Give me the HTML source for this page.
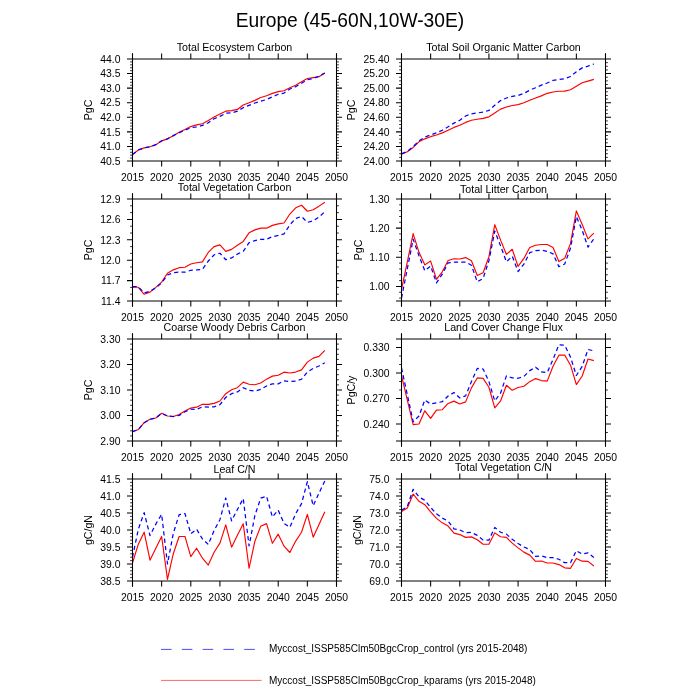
<!DOCTYPE html><html><head><meta charset="utf-8"><style>html,body{margin:0;padding:0;background:#fff;width:700px;height:700px;overflow:hidden}svg{display:block;will-change:transform}</style></head><body>
<svg width="700" height="700" viewBox="0 0 700 700" font-family='"Liberation Sans", sans-serif'>
<rect width="700" height="700" fill="#fff"/>
<text transform="translate(350 26.9) scale(1 1.065)" x="0" y="0" font-size="19.26" text-anchor="middle" fill="#000">Europe (45-60N,10W-30E)</text>
<g><polyline points="132.50,154.59 138.33,149.93 144.16,147.89 149.99,146.72 155.81,144.68 161.64,140.89 167.47,138.85 173.30,135.65 179.13,132.15 184.96,129.53 190.79,126.61 196.61,124.86 202.44,123.70 208.27,120.49 214.10,116.99 219.93,114.08 225.76,111.17 231.59,110.58 237.41,109.42 243.24,105.05 249.07,102.71 254.90,100.38 260.73,97.47 266.56,95.72 272.39,93.39 278.21,91.64 284.04,90.77 289.87,87.85 295.70,85.23 301.53,81.73 307.36,78.53 313.19,77.65 319.01,76.78 324.84,72.99" fill="none" stroke="#ff0000" stroke-width="1.15" stroke-linejoin="round"/><polyline points="132.50,154.59 138.33,149.93 144.16,147.89 149.99,146.72 155.81,144.68 161.64,140.89 167.47,138.85 173.30,135.65 179.13,132.73 184.96,130.11 190.79,127.78 196.61,126.90 202.44,125.45 208.27,122.82 214.10,118.74 219.93,116.41 225.76,113.21 231.59,112.91 237.41,111.17 243.24,107.67 249.07,105.34 254.90,103.01 260.73,101.26 266.56,99.51 272.39,96.89 278.21,94.26 284.04,93.10 289.87,89.02 295.70,86.69 301.53,83.19 307.36,79.69 313.19,78.53 319.01,76.19 324.84,72.99" fill="none" stroke="#0000ff" stroke-width="1.25" stroke-linejoin="round" stroke-dasharray="4.2 3.2"/><path d="M127.0,59H342.0M127.0,161H342.0" stroke="#000" stroke-width="1.0" fill="none"/><path d="M132.5,53.2V166.8M336.5,53.2V166.8" stroke="#000" stroke-width="1.05" fill="none"/><path d="M132.50,53.5V59M132.50,161V166.5M161.64,53.5V59M161.64,161V166.5M190.79,53.5V59M190.79,161V166.5M219.93,53.5V59M219.93,161V166.5M249.07,53.5V59M249.07,161V166.5M278.21,53.5V59M278.21,161V166.5M307.36,53.5V59M307.36,161V166.5M336.50,53.5V59M336.50,161V166.5" stroke="#000" stroke-width="1.05" fill="none"/><text x="132.50" y="180.5" font-size="10.4" text-anchor="middle">2015</text><text x="161.64" y="180.5" font-size="10.4" text-anchor="middle">2020</text><text x="190.79" y="180.5" font-size="10.4" text-anchor="middle">2025</text><text x="219.93" y="180.5" font-size="10.4" text-anchor="middle">2030</text><text x="249.07" y="180.5" font-size="10.4" text-anchor="middle">2035</text><text x="278.21" y="180.5" font-size="10.4" text-anchor="middle">2040</text><text x="307.36" y="180.5" font-size="10.4" text-anchor="middle">2045</text><text x="336.50" y="180.5" font-size="10.4" text-anchor="middle">2050</text><text x="120.5" y="164.70" font-size="10.4" text-anchor="end">40.5</text><text x="120.5" y="150.13" font-size="10.4" text-anchor="end">41.0</text><text x="120.5" y="135.56" font-size="10.4" text-anchor="end">41.5</text><text x="120.5" y="120.99" font-size="10.4" text-anchor="end">42.0</text><text x="120.5" y="106.41" font-size="10.4" text-anchor="end">42.5</text><text x="120.5" y="91.84" font-size="10.4" text-anchor="end">43.0</text><text x="120.5" y="77.27" font-size="10.4" text-anchor="end">43.5</text><text x="120.5" y="62.70" font-size="10.4" text-anchor="end">44.0</text><path d="M127.0,146.43H132.5M336.5,146.43H342.0M127.0,131.86H132.5M336.5,131.86H342.0M127.0,117.29H132.5M336.5,117.29H342.0M127.0,102.71H132.5M336.5,102.71H342.0M127.0,88.14H132.5M336.5,88.14H342.0M127.0,73.57H132.5M336.5,73.57H342.0" stroke="#000" stroke-width="1.05" fill="none"/><path d="M130.1,158.09H132.5M336.5,158.09H338.9M130.1,155.17H132.5M336.5,155.17H338.9M130.1,152.26H132.5M336.5,152.26H338.9M130.1,149.34H132.5M336.5,149.34H338.9M130.1,143.51H132.5M336.5,143.51H338.9M130.1,140.60H132.5M336.5,140.60H338.9M130.1,137.69H132.5M336.5,137.69H338.9M130.1,134.77H132.5M336.5,134.77H338.9M130.1,128.94H132.5M336.5,128.94H338.9M130.1,126.03H132.5M336.5,126.03H338.9M130.1,123.11H132.5M336.5,123.11H338.9M130.1,120.20H132.5M336.5,120.20H338.9M130.1,114.37H132.5M336.5,114.37H338.9M130.1,111.46H132.5M336.5,111.46H338.9M130.1,108.54H132.5M336.5,108.54H338.9M130.1,105.63H132.5M336.5,105.63H338.9M130.1,99.80H132.5M336.5,99.80H338.9M130.1,96.89H132.5M336.5,96.89H338.9M130.1,93.97H132.5M336.5,93.97H338.9M130.1,91.06H132.5M336.5,91.06H338.9M130.1,85.23H132.5M336.5,85.23H338.9M130.1,82.31H132.5M336.5,82.31H338.9M130.1,79.40H132.5M336.5,79.40H338.9M130.1,76.49H132.5M336.5,76.49H338.9M130.1,70.66H132.5M336.5,70.66H338.9M130.1,67.74H132.5M336.5,67.74H338.9M130.1,64.83H132.5M336.5,64.83H338.9M130.1,61.91H132.5M336.5,61.91H338.9" stroke="#000" stroke-width="0.8" fill="none"/><text x="234.50" y="51" font-size="10.67" text-anchor="middle">Total Ecosystem Carbon</text><text x="91.70" y="110.00" font-size="10.6" text-anchor="middle" transform="rotate(-90 91.70 110.00)">PgC</text></g>
<g><polyline points="401.50,154.30 407.33,151.67 413.16,147.45 418.99,141.84 424.81,138.85 430.64,136.67 436.47,134.99 442.30,132.88 448.13,130.25 453.96,127.41 459.79,125.30 465.61,122.39 471.44,120.27 477.27,119.25 483.10,118.38 488.93,116.85 494.76,112.99 500.59,109.13 506.41,107.01 512.24,105.48 518.07,104.61 523.90,102.71 529.73,100.31 535.56,97.98 541.39,95.87 547.21,93.32 553.04,92.00 558.87,91.28 564.70,91.13 570.53,89.75 576.36,86.25 582.19,82.82 588.01,81.15 593.84,79.40" fill="none" stroke="#ff0000" stroke-width="1.15" stroke-linejoin="round"/><polyline points="401.50,153.86 407.33,151.31 413.16,146.57 418.99,140.96 424.81,137.10 430.64,134.99 436.47,132.88 442.30,130.25 448.13,126.83 453.96,123.11 459.79,120.27 465.61,115.97 471.44,113.86 477.27,112.99 483.10,112.11 488.93,110.44 494.76,105.26 500.59,100.60 506.41,97.98 512.24,96.30 518.07,95.43 523.90,93.32 529.73,90.26 535.56,87.71 541.39,85.16 547.21,82.97 553.04,80.42 558.87,79.47 564.70,78.67 570.53,76.49 576.36,71.75 582.19,67.89 588.01,66.14 593.84,64.03" fill="none" stroke="#0000ff" stroke-width="1.25" stroke-linejoin="round" stroke-dasharray="4.2 3.2"/><path d="M396.0,59H611.0M396.0,161H611.0" stroke="#000" stroke-width="1.0" fill="none"/><path d="M401.5,53.2V166.8M605.5,53.2V166.8" stroke="#000" stroke-width="1.05" fill="none"/><path d="M401.50,53.5V59M401.50,161V166.5M430.64,53.5V59M430.64,161V166.5M459.79,53.5V59M459.79,161V166.5M488.93,53.5V59M488.93,161V166.5M518.07,53.5V59M518.07,161V166.5M547.21,53.5V59M547.21,161V166.5M576.36,53.5V59M576.36,161V166.5M605.50,53.5V59M605.50,161V166.5" stroke="#000" stroke-width="1.05" fill="none"/><text x="401.50" y="180.5" font-size="10.4" text-anchor="middle">2015</text><text x="430.64" y="180.5" font-size="10.4" text-anchor="middle">2020</text><text x="459.79" y="180.5" font-size="10.4" text-anchor="middle">2025</text><text x="488.93" y="180.5" font-size="10.4" text-anchor="middle">2030</text><text x="518.07" y="180.5" font-size="10.4" text-anchor="middle">2035</text><text x="547.21" y="180.5" font-size="10.4" text-anchor="middle">2040</text><text x="576.36" y="180.5" font-size="10.4" text-anchor="middle">2045</text><text x="605.50" y="180.5" font-size="10.4" text-anchor="middle">2050</text><text x="389.5" y="164.70" font-size="10.4" text-anchor="end">24.00</text><text x="389.5" y="150.13" font-size="10.4" text-anchor="end">24.20</text><text x="389.5" y="135.56" font-size="10.4" text-anchor="end">24.40</text><text x="389.5" y="120.99" font-size="10.4" text-anchor="end">24.60</text><text x="389.5" y="106.41" font-size="10.4" text-anchor="end">24.80</text><text x="389.5" y="91.84" font-size="10.4" text-anchor="end">25.00</text><text x="389.5" y="77.27" font-size="10.4" text-anchor="end">25.20</text><text x="389.5" y="62.70" font-size="10.4" text-anchor="end">25.40</text><path d="M396.0,146.43H401.5M605.5,146.43H611.0M396.0,131.86H401.5M605.5,131.86H611.0M396.0,117.29H401.5M605.5,117.29H611.0M396.0,102.71H401.5M605.5,102.71H611.0M396.0,88.14H401.5M605.5,88.14H611.0M396.0,73.57H401.5M605.5,73.57H611.0" stroke="#000" stroke-width="1.05" fill="none"/><path d="M399.1,157.36H401.5M605.5,157.36H607.9M399.1,153.71H401.5M605.5,153.71H607.9M399.1,150.07H401.5M605.5,150.07H607.9M399.1,142.79H401.5M605.5,142.79H607.9M399.1,139.14H401.5M605.5,139.14H607.9M399.1,135.50H401.5M605.5,135.50H607.9M399.1,128.21H401.5M605.5,128.21H607.9M399.1,124.57H401.5M605.5,124.57H607.9M399.1,120.93H401.5M605.5,120.93H607.9M399.1,113.64H401.5M605.5,113.64H607.9M399.1,110.00H401.5M605.5,110.00H607.9M399.1,106.36H401.5M605.5,106.36H607.9M399.1,99.07H401.5M605.5,99.07H607.9M399.1,95.43H401.5M605.5,95.43H607.9M399.1,91.79H401.5M605.5,91.79H607.9M399.1,84.50H401.5M605.5,84.50H607.9M399.1,80.86H401.5M605.5,80.86H607.9M399.1,77.21H401.5M605.5,77.21H607.9M399.1,69.93H401.5M605.5,69.93H607.9M399.1,66.29H401.5M605.5,66.29H607.9M399.1,62.64H401.5M605.5,62.64H607.9" stroke="#000" stroke-width="0.8" fill="none"/><text x="503.50" y="51" font-size="10.67" text-anchor="middle">Total Soil Organic Matter Carbon</text><text x="354.50" y="110.00" font-size="10.6" text-anchor="middle" transform="rotate(-90 354.50 110.00)">PgC</text></g>
<g><polyline points="132.50,287.26 138.33,287.26 144.16,294.27 149.99,292.16 155.81,287.40 161.64,282.10 167.47,273.26 173.30,269.86 179.13,267.68 184.96,267.27 190.79,264.01 196.61,262.72 202.44,261.83 208.27,252.45 214.10,246.60 219.93,244.90 225.76,251.36 231.59,249.39 237.41,245.24 243.24,241.43 249.07,232.86 254.90,229.87 260.73,228.17 266.56,228.17 272.39,225.38 278.21,223.82 284.04,223.00 289.87,214.03 295.70,207.84 301.53,205.26 307.36,211.24 313.19,209.74 319.01,206.14 324.84,202.20" fill="none" stroke="#ff0000" stroke-width="1.15" stroke-linejoin="round"/><polyline points="132.50,286.58 138.33,286.72 144.16,292.98 149.99,291.28 155.81,287.81 161.64,282.98 167.47,274.96 173.30,272.71 179.13,272.17 184.96,272.24 190.79,270.26 196.61,269.99 202.44,269.38 208.27,261.02 214.10,254.83 219.93,253.26 225.76,259.72 231.59,257.96 237.41,254.08 243.24,251.29 249.07,242.72 254.90,240.55 260.73,239.26 266.56,239.26 272.39,236.67 278.21,235.45 284.04,233.82 289.87,224.84 295.70,218.52 301.53,216.41 307.36,222.39 313.19,220.83 319.01,217.02 324.84,211.58" fill="none" stroke="#0000ff" stroke-width="1.25" stroke-linejoin="round" stroke-dasharray="4.2 3.2"/><path d="M127.0,199H342.0M127.0,301H342.0" stroke="#000" stroke-width="1.0" fill="none"/><path d="M132.5,193.2V306.8M336.5,193.2V306.8" stroke="#000" stroke-width="1.05" fill="none"/><path d="M132.50,193.5V199M132.50,301V306.5M161.64,193.5V199M161.64,301V306.5M190.79,193.5V199M190.79,301V306.5M219.93,193.5V199M219.93,301V306.5M249.07,193.5V199M249.07,301V306.5M278.21,193.5V199M278.21,301V306.5M307.36,193.5V199M307.36,301V306.5M336.50,193.5V199M336.50,301V306.5" stroke="#000" stroke-width="1.05" fill="none"/><text x="132.50" y="320.5" font-size="10.4" text-anchor="middle">2015</text><text x="161.64" y="320.5" font-size="10.4" text-anchor="middle">2020</text><text x="190.79" y="320.5" font-size="10.4" text-anchor="middle">2025</text><text x="219.93" y="320.5" font-size="10.4" text-anchor="middle">2030</text><text x="249.07" y="320.5" font-size="10.4" text-anchor="middle">2035</text><text x="278.21" y="320.5" font-size="10.4" text-anchor="middle">2040</text><text x="307.36" y="320.5" font-size="10.4" text-anchor="middle">2045</text><text x="336.50" y="320.5" font-size="10.4" text-anchor="middle">2050</text><text x="120.5" y="304.70" font-size="10.4" text-anchor="end">11.4</text><text x="120.5" y="284.30" font-size="10.4" text-anchor="end">11.7</text><text x="120.5" y="263.90" font-size="10.4" text-anchor="end">12.0</text><text x="120.5" y="243.50" font-size="10.4" text-anchor="end">12.3</text><text x="120.5" y="223.10" font-size="10.4" text-anchor="end">12.6</text><text x="120.5" y="202.70" font-size="10.4" text-anchor="end">12.9</text><path d="M127.0,280.60H132.5M336.5,280.60H342.0M127.0,260.20H132.5M336.5,260.20H342.0M127.0,239.80H132.5M336.5,239.80H342.0M127.0,219.40H132.5M336.5,219.40H342.0" stroke="#000" stroke-width="1.05" fill="none"/><path d="M130.1,294.20H132.5M336.5,294.20H338.9M130.1,287.40H132.5M336.5,287.40H338.9M130.1,273.80H132.5M336.5,273.80H338.9M130.1,267.00H132.5M336.5,267.00H338.9M130.1,253.40H132.5M336.5,253.40H338.9M130.1,246.60H132.5M336.5,246.60H338.9M130.1,233.00H132.5M336.5,233.00H338.9M130.1,226.20H132.5M336.5,226.20H338.9M130.1,212.60H132.5M336.5,212.60H338.9M130.1,205.80H132.5M336.5,205.80H338.9" stroke="#000" stroke-width="0.8" fill="none"/><text x="234.50" y="191" font-size="10.67" text-anchor="middle">Total Vegetation Carbon</text><text x="92.20" y="250.00" font-size="10.6" text-anchor="middle" transform="rotate(-90 92.20 250.00)">PgC</text></g>
<g><polyline points="401.50,289.34 407.33,261.80 413.16,233.68 418.99,252.33 424.81,264.86 430.64,261.07 436.47,279.29 442.30,271.86 448.13,260.49 453.96,258.74 459.79,258.98 465.61,257.61 471.44,260.70 477.27,275.56 483.10,272.70 488.93,256.70 494.76,224.70 500.59,240.15 506.41,254.43 512.24,249.30 518.07,266.41 523.90,258.42 529.73,247.58 535.56,245.28 541.39,244.49 547.21,244.49 553.04,247.58 558.87,261.51 564.70,258.36 570.53,243.41 576.36,210.86 582.19,224.56 588.01,238.87 593.84,233.13" fill="none" stroke="#ff0000" stroke-width="1.15" stroke-linejoin="round"/><polyline points="401.50,298.09 407.33,268.65 413.16,239.22 418.99,255.83 424.81,270.69 430.64,266.03 436.47,282.93 442.30,274.19 448.13,262.82 453.96,262.24 459.79,262.09 465.61,262.09 471.44,265.27 477.27,281.85 483.10,278.41 488.93,260.70 494.76,231.00 500.59,245.86 506.41,261.86 512.24,256.15 518.07,271.57 523.90,264.13 529.73,252.71 535.56,250.67 541.39,250.20 547.21,251.34 553.04,253.85 558.87,266.64 564.70,264.05 570.53,247.99 576.36,216.57 582.19,230.30 588.01,247.09 593.84,238.87" fill="none" stroke="#0000ff" stroke-width="1.25" stroke-linejoin="round" stroke-dasharray="4.2 3.2"/><path d="M396.0,199H611.0M396.0,301H611.0" stroke="#000" stroke-width="1.0" fill="none"/><path d="M401.5,193.2V306.8M605.5,193.2V306.8" stroke="#000" stroke-width="1.05" fill="none"/><path d="M401.50,193.5V199M401.50,301V306.5M430.64,193.5V199M430.64,301V306.5M459.79,193.5V199M459.79,301V306.5M488.93,193.5V199M488.93,301V306.5M518.07,193.5V199M518.07,301V306.5M547.21,193.5V199M547.21,301V306.5M576.36,193.5V199M576.36,301V306.5M605.50,193.5V199M605.50,301V306.5" stroke="#000" stroke-width="1.05" fill="none"/><text x="401.50" y="320.5" font-size="10.4" text-anchor="middle">2015</text><text x="430.64" y="320.5" font-size="10.4" text-anchor="middle">2020</text><text x="459.79" y="320.5" font-size="10.4" text-anchor="middle">2025</text><text x="488.93" y="320.5" font-size="10.4" text-anchor="middle">2030</text><text x="518.07" y="320.5" font-size="10.4" text-anchor="middle">2035</text><text x="547.21" y="320.5" font-size="10.4" text-anchor="middle">2040</text><text x="576.36" y="320.5" font-size="10.4" text-anchor="middle">2045</text><text x="605.50" y="320.5" font-size="10.4" text-anchor="middle">2050</text><text x="389.5" y="290.13" font-size="10.4" text-anchor="end">1.00</text><text x="389.5" y="260.99" font-size="10.4" text-anchor="end">1.10</text><text x="389.5" y="231.84" font-size="10.4" text-anchor="end">1.20</text><text x="389.5" y="202.70" font-size="10.4" text-anchor="end">1.30</text><path d="M396.0,286.43H401.5M605.5,286.43H611.0M396.0,257.29H401.5M605.5,257.29H611.0M396.0,228.14H401.5M605.5,228.14H611.0" stroke="#000" stroke-width="1.05" fill="none"/><path d="M399.1,298.09H401.5M605.5,298.09H607.9M399.1,292.26H401.5M605.5,292.26H607.9M399.1,280.60H401.5M605.5,280.60H607.9M399.1,274.77H401.5M605.5,274.77H607.9M399.1,268.94H401.5M605.5,268.94H607.9M399.1,263.11H401.5M605.5,263.11H607.9M399.1,251.46H401.5M605.5,251.46H607.9M399.1,245.63H401.5M605.5,245.63H607.9M399.1,239.80H401.5M605.5,239.80H607.9M399.1,233.97H401.5M605.5,233.97H607.9M399.1,222.31H401.5M605.5,222.31H607.9M399.1,216.49H401.5M605.5,216.49H607.9M399.1,210.66H401.5M605.5,210.66H607.9M399.1,204.83H401.5M605.5,204.83H607.9" stroke="#000" stroke-width="0.8" fill="none"/><text x="503.50" y="192.8" font-size="10.67" text-anchor="middle">Total Litter Carbon</text><text x="361.50" y="250.00" font-size="10.6" text-anchor="middle" transform="rotate(-90 361.50 250.00)">PgC</text></g>
<g><polyline points="132.50,431.69 138.33,429.55 144.16,422.69 149.99,419.27 155.81,418.00 161.64,413.28 167.47,416.01 173.30,416.52 179.13,414.56 184.96,410.99 190.79,408.03 196.61,407.16 202.44,404.25 208.27,404.43 214.10,403.39 219.93,400.99 225.76,393.72 231.59,389.69 237.41,387.70 243.24,382.12 249.07,384.29 254.90,384.70 260.73,382.99 266.56,379.14 272.39,376.13 278.21,375.29 284.04,372.15 289.87,372.99 295.70,372.07 301.53,369.86 307.36,362.13 313.19,358.10 319.01,356.39 324.84,350.40" fill="none" stroke="#ff0000" stroke-width="1.15" stroke-linejoin="round"/><polyline points="132.50,431.69 138.33,429.55 144.16,422.69 149.99,419.27 155.81,418.00 161.64,413.28 167.47,416.01 173.30,416.52 179.13,415.40 184.96,411.75 190.79,409.12 196.61,409.38 202.44,406.83 208.27,407.16 214.10,406.83 219.93,404.59 225.76,397.39 231.59,393.72 237.41,391.91 243.24,387.70 249.07,390.28 254.90,391.12 260.73,389.41 266.56,386.00 272.39,383.85 278.21,383.85 284.04,380.77 289.87,381.48 295.70,381.13 301.53,379.26 307.36,372.00 313.19,368.40 319.01,366.00 324.84,362.74" fill="none" stroke="#0000ff" stroke-width="1.25" stroke-linejoin="round" stroke-dasharray="4.2 3.2"/><path d="M127.0,339H342.0M127.0,441H342.0" stroke="#000" stroke-width="1.0" fill="none"/><path d="M132.5,333.2V446.8M336.5,333.2V446.8" stroke="#000" stroke-width="1.05" fill="none"/><path d="M132.50,333.5V339M132.50,441V446.5M161.64,333.5V339M161.64,441V446.5M190.79,333.5V339M190.79,441V446.5M219.93,333.5V339M219.93,441V446.5M249.07,333.5V339M249.07,441V446.5M278.21,333.5V339M278.21,441V446.5M307.36,333.5V339M307.36,441V446.5M336.50,333.5V339M336.50,441V446.5" stroke="#000" stroke-width="1.05" fill="none"/><text x="132.50" y="460.5" font-size="10.4" text-anchor="middle">2015</text><text x="161.64" y="460.5" font-size="10.4" text-anchor="middle">2020</text><text x="190.79" y="460.5" font-size="10.4" text-anchor="middle">2025</text><text x="219.93" y="460.5" font-size="10.4" text-anchor="middle">2030</text><text x="249.07" y="460.5" font-size="10.4" text-anchor="middle">2035</text><text x="278.21" y="460.5" font-size="10.4" text-anchor="middle">2040</text><text x="307.36" y="460.5" font-size="10.4" text-anchor="middle">2045</text><text x="336.50" y="460.5" font-size="10.4" text-anchor="middle">2050</text><text x="120.5" y="444.70" font-size="10.4" text-anchor="end">2.90</text><text x="120.5" y="419.20" font-size="10.4" text-anchor="end">3.00</text><text x="120.5" y="393.70" font-size="10.4" text-anchor="end">3.10</text><text x="120.5" y="368.20" font-size="10.4" text-anchor="end">3.20</text><text x="120.5" y="342.70" font-size="10.4" text-anchor="end">3.30</text><path d="M127.0,415.50H132.5M336.5,415.50H342.0M127.0,390.00H132.5M336.5,390.00H342.0M127.0,364.50H132.5M336.5,364.50H342.0" stroke="#000" stroke-width="1.05" fill="none"/><path d="M130.1,435.90H132.5M336.5,435.90H338.9M130.1,430.80H132.5M336.5,430.80H338.9M130.1,425.70H132.5M336.5,425.70H338.9M130.1,420.60H132.5M336.5,420.60H338.9M130.1,410.40H132.5M336.5,410.40H338.9M130.1,405.30H132.5M336.5,405.30H338.9M130.1,400.20H132.5M336.5,400.20H338.9M130.1,395.10H132.5M336.5,395.10H338.9M130.1,384.90H132.5M336.5,384.90H338.9M130.1,379.80H132.5M336.5,379.80H338.9M130.1,374.70H132.5M336.5,374.70H338.9M130.1,369.60H132.5M336.5,369.60H338.9M130.1,359.40H132.5M336.5,359.40H338.9M130.1,354.30H132.5M336.5,354.30H338.9M130.1,349.20H132.5M336.5,349.20H338.9M130.1,344.10H132.5M336.5,344.10H338.9" stroke="#000" stroke-width="0.8" fill="none"/><text x="234.50" y="331" font-size="10.67" text-anchor="middle">Coarse Woody Debris Carbon</text><text x="92.00" y="390.00" font-size="10.6" text-anchor="middle" transform="rotate(-90 92.00 390.00)">PgC</text></g>
<g><polyline points="401.50,375.47 407.33,400.03 413.16,424.59 418.99,424.00 424.81,410.82 430.64,418.31 436.47,410.06 442.30,409.72 448.13,403.43 453.96,401.13 459.79,403.94 465.61,401.90 471.44,387.88 477.27,377.93 483.10,378.36 488.93,387.28 494.76,407.85 500.59,400.97 506.41,385.24 512.24,390.34 518.07,387.45 523.90,386.26 529.73,381.67 535.56,378.61 541.39,380.56 547.21,381.16 553.04,366.29 558.87,355.15 564.70,355.07 570.53,365.18 576.36,384.56 582.19,375.98 588.01,359.06 593.84,360.59" fill="none" stroke="#ff0000" stroke-width="1.15" stroke-linejoin="round"/><polyline points="401.50,367.99 407.33,394.85 413.16,421.70 418.99,416.01 424.81,400.03 430.64,404.02 436.47,402.83 442.30,401.73 448.13,396.04 453.96,392.55 459.79,397.99 465.61,395.87 471.44,381.59 477.27,368.41 483.10,369.00 488.93,381.59 494.76,400.97 500.59,392.97 506.41,375.89 512.24,377.85 518.07,378.27 523.90,376.57 529.73,370.62 535.56,367.22 541.39,371.98 547.21,372.58 553.04,359.40 558.87,344.70 564.70,345.12 570.53,357.11 576.36,375.47 582.19,366.29 588.01,349.46 593.84,350.90" fill="none" stroke="#0000ff" stroke-width="1.25" stroke-linejoin="round" stroke-dasharray="4.2 3.2"/><path d="M396.0,339H611.0M396.0,441H611.0" stroke="#000" stroke-width="1.0" fill="none"/><path d="M401.5,333.2V446.8M605.5,333.2V446.8" stroke="#000" stroke-width="1.05" fill="none"/><path d="M401.50,333.5V339M401.50,441V446.5M430.64,333.5V339M430.64,441V446.5M459.79,333.5V339M459.79,441V446.5M488.93,333.5V339M488.93,441V446.5M518.07,333.5V339M518.07,441V446.5M547.21,333.5V339M547.21,441V446.5M576.36,333.5V339M576.36,441V446.5M605.50,333.5V339M605.50,441V446.5" stroke="#000" stroke-width="1.05" fill="none"/><text x="401.50" y="460.5" font-size="10.4" text-anchor="middle">2015</text><text x="430.64" y="460.5" font-size="10.4" text-anchor="middle">2020</text><text x="459.79" y="460.5" font-size="10.4" text-anchor="middle">2025</text><text x="488.93" y="460.5" font-size="10.4" text-anchor="middle">2030</text><text x="518.07" y="460.5" font-size="10.4" text-anchor="middle">2035</text><text x="547.21" y="460.5" font-size="10.4" text-anchor="middle">2040</text><text x="576.36" y="460.5" font-size="10.4" text-anchor="middle">2045</text><text x="605.50" y="460.5" font-size="10.4" text-anchor="middle">2050</text><text x="389.5" y="427.70" font-size="10.4" text-anchor="end">0.240</text><text x="389.5" y="402.20" font-size="10.4" text-anchor="end">0.270</text><text x="389.5" y="376.70" font-size="10.4" text-anchor="end">0.300</text><text x="389.5" y="351.20" font-size="10.4" text-anchor="end">0.330</text><path d="M396.0,424.00H401.5M605.5,424.00H611.0M396.0,398.50H401.5M605.5,398.50H611.0M396.0,373.00H401.5M605.5,373.00H611.0M396.0,347.50H401.5M605.5,347.50H611.0" stroke="#000" stroke-width="1.05" fill="none"/><path d="M399.1,432.50H401.5M605.5,432.50H607.9M399.1,415.50H401.5M605.5,415.50H607.9M399.1,407.00H401.5M605.5,407.00H607.9M399.1,390.00H401.5M605.5,390.00H607.9M399.1,381.50H401.5M605.5,381.50H607.9M399.1,364.50H401.5M605.5,364.50H607.9M399.1,356.00H401.5M605.5,356.00H607.9" stroke="#000" stroke-width="0.8" fill="none"/><text x="503.50" y="331" font-size="10.67" text-anchor="middle">Land Cover Change Flux</text><text x="354.50" y="390.00" font-size="10.6" text-anchor="middle" transform="rotate(-90 354.50 390.00)">PgC/y</text></g>
<g><polyline points="132.50,563.01 138.33,544.14 144.16,532.14 149.99,560.16 155.81,548.26 161.64,536.46 167.47,579.40 173.30,553.70 179.13,536.46 184.96,536.46 190.79,556.55 196.61,548.22 202.44,558.22 208.27,565.02 214.10,552.30 219.93,543.16 225.76,524.87 231.59,547.14 237.41,535.37 243.24,523.71 249.07,568.28 254.90,541.22 260.73,526.16 266.56,523.64 272.39,543.29 278.21,534.15 284.04,546.22 289.87,552.51 295.70,541.08 301.53,532.21 307.36,514.36 313.19,537.14 319.01,524.56 324.84,511.64" fill="none" stroke="#ff0000" stroke-width="1.15" stroke-linejoin="round"/><polyline points="132.50,557.20 138.33,529.29 144.16,512.69 149.99,535.58 155.81,524.15 161.64,514.36 167.47,564.00 173.30,533.40 179.13,514.70 184.96,513.51 190.79,533.71 196.61,529.15 202.44,539.01 208.27,544.42 214.10,530.58 219.93,519.70 225.76,498.01 231.59,520.85 237.41,509.43 243.24,498.58 249.07,545.98 254.90,515.38 260.73,498.14 266.56,496.20 272.39,517.01 278.21,510.14 284.04,523.37 289.87,527.35 295.70,513.65 301.53,503.65 307.36,481.72 313.19,505.72 319.01,493.14 324.84,480.80" fill="none" stroke="#0000ff" stroke-width="1.25" stroke-linejoin="round" stroke-dasharray="4.2 3.2"/><path d="M127.0,479H342.0M127.0,581H342.0" stroke="#000" stroke-width="1.0" fill="none"/><path d="M132.5,473.2V586.8M336.5,473.2V586.8" stroke="#000" stroke-width="1.05" fill="none"/><path d="M132.50,473.5V479M132.50,581V586.5M161.64,473.5V479M161.64,581V586.5M190.79,473.5V479M190.79,581V586.5M219.93,473.5V479M219.93,581V586.5M249.07,473.5V479M249.07,581V586.5M278.21,473.5V479M278.21,581V586.5M307.36,473.5V479M307.36,581V586.5M336.50,473.5V479M336.50,581V586.5" stroke="#000" stroke-width="1.05" fill="none"/><text x="132.50" y="600.5" font-size="10.4" text-anchor="middle">2015</text><text x="161.64" y="600.5" font-size="10.4" text-anchor="middle">2020</text><text x="190.79" y="600.5" font-size="10.4" text-anchor="middle">2025</text><text x="219.93" y="600.5" font-size="10.4" text-anchor="middle">2030</text><text x="249.07" y="600.5" font-size="10.4" text-anchor="middle">2035</text><text x="278.21" y="600.5" font-size="10.4" text-anchor="middle">2040</text><text x="307.36" y="600.5" font-size="10.4" text-anchor="middle">2045</text><text x="336.50" y="600.5" font-size="10.4" text-anchor="middle">2050</text><text x="120.5" y="584.70" font-size="10.4" text-anchor="end">38.5</text><text x="120.5" y="567.70" font-size="10.4" text-anchor="end">39.0</text><text x="120.5" y="550.70" font-size="10.4" text-anchor="end">39.5</text><text x="120.5" y="533.70" font-size="10.4" text-anchor="end">40.0</text><text x="120.5" y="516.70" font-size="10.4" text-anchor="end">40.5</text><text x="120.5" y="499.70" font-size="10.4" text-anchor="end">41.0</text><text x="120.5" y="482.70" font-size="10.4" text-anchor="end">41.5</text><path d="M127.0,564.00H132.5M336.5,564.00H342.0M127.0,547.00H132.5M336.5,547.00H342.0M127.0,530.00H132.5M336.5,530.00H342.0M127.0,513.00H132.5M336.5,513.00H342.0M127.0,496.00H132.5M336.5,496.00H342.0" stroke="#000" stroke-width="1.05" fill="none"/><path d="M130.1,577.60H132.5M336.5,577.60H338.9M130.1,574.20H132.5M336.5,574.20H338.9M130.1,570.80H132.5M336.5,570.80H338.9M130.1,567.40H132.5M336.5,567.40H338.9M130.1,560.60H132.5M336.5,560.60H338.9M130.1,557.20H132.5M336.5,557.20H338.9M130.1,553.80H132.5M336.5,553.80H338.9M130.1,550.40H132.5M336.5,550.40H338.9M130.1,543.60H132.5M336.5,543.60H338.9M130.1,540.20H132.5M336.5,540.20H338.9M130.1,536.80H132.5M336.5,536.80H338.9M130.1,533.40H132.5M336.5,533.40H338.9M130.1,526.60H132.5M336.5,526.60H338.9M130.1,523.20H132.5M336.5,523.20H338.9M130.1,519.80H132.5M336.5,519.80H338.9M130.1,516.40H132.5M336.5,516.40H338.9M130.1,509.60H132.5M336.5,509.60H338.9M130.1,506.20H132.5M336.5,506.20H338.9M130.1,502.80H132.5M336.5,502.80H338.9M130.1,499.40H132.5M336.5,499.40H338.9M130.1,492.60H132.5M336.5,492.60H338.9M130.1,489.20H132.5M336.5,489.20H338.9M130.1,485.80H132.5M336.5,485.80H338.9M130.1,482.40H132.5M336.5,482.40H338.9" stroke="#000" stroke-width="0.8" fill="none"/><text x="234.50" y="472.8" font-size="10.67" text-anchor="middle">Leaf C/N</text><text x="91.90" y="530.00" font-size="10.6" text-anchor="middle" transform="rotate(-90 91.90 530.00)">gC/gN</text></g>
<g><polyline points="401.50,511.57 407.33,507.93 413.16,493.99 418.99,501.29 424.81,504.72 430.64,511.88 436.47,518.39 442.30,522.84 448.13,526.11 453.96,533.13 459.79,534.59 465.61,537.38 471.44,536.88 477.27,539.71 483.10,544.25 488.93,544.25 494.76,532.86 500.59,536.71 506.41,537.38 512.24,543.09 518.07,547.85 523.90,552.13 529.73,555.13 535.56,561.30 541.39,560.96 547.21,563.01 553.04,563.01 558.87,564.58 564.70,567.82 570.53,568.33 576.36,558.42 582.19,561.16 588.01,561.42 593.84,565.95" fill="none" stroke="#ff0000" stroke-width="1.15" stroke-linejoin="round"/><polyline points="401.50,510.30 407.33,506.44 413.16,489.29 418.99,497.00 424.81,500.22 430.64,507.42 436.47,513.85 442.30,518.13 448.13,521.13 453.96,528.84 459.79,530.00 465.61,532.58 471.44,532.41 477.27,535.42 483.10,540.13 488.93,540.13 494.76,527.45 500.59,532.24 506.41,534.13 512.24,539.28 518.07,543.57 523.90,546.98 529.73,549.57 535.56,556.42 541.39,555.82 547.21,557.69 553.04,557.69 558.87,559.26 564.70,562.69 570.53,562.69 576.36,550.71 582.19,554.12 588.01,552.85 593.84,557.56" fill="none" stroke="#0000ff" stroke-width="1.25" stroke-linejoin="round" stroke-dasharray="4.2 3.2"/><path d="M396.0,479H611.0M396.0,581H611.0" stroke="#000" stroke-width="1.0" fill="none"/><path d="M401.5,473.2V586.8M605.5,473.2V586.8" stroke="#000" stroke-width="1.05" fill="none"/><path d="M401.50,473.5V479M401.50,581V586.5M430.64,473.5V479M430.64,581V586.5M459.79,473.5V479M459.79,581V586.5M488.93,473.5V479M488.93,581V586.5M518.07,473.5V479M518.07,581V586.5M547.21,473.5V479M547.21,581V586.5M576.36,473.5V479M576.36,581V586.5M605.50,473.5V479M605.50,581V586.5" stroke="#000" stroke-width="1.05" fill="none"/><text x="401.50" y="600.5" font-size="10.4" text-anchor="middle">2015</text><text x="430.64" y="600.5" font-size="10.4" text-anchor="middle">2020</text><text x="459.79" y="600.5" font-size="10.4" text-anchor="middle">2025</text><text x="488.93" y="600.5" font-size="10.4" text-anchor="middle">2030</text><text x="518.07" y="600.5" font-size="10.4" text-anchor="middle">2035</text><text x="547.21" y="600.5" font-size="10.4" text-anchor="middle">2040</text><text x="576.36" y="600.5" font-size="10.4" text-anchor="middle">2045</text><text x="605.50" y="600.5" font-size="10.4" text-anchor="middle">2050</text><text x="389.5" y="584.70" font-size="10.4" text-anchor="end">69.0</text><text x="389.5" y="567.70" font-size="10.4" text-anchor="end">70.0</text><text x="389.5" y="550.70" font-size="10.4" text-anchor="end">71.0</text><text x="389.5" y="533.70" font-size="10.4" text-anchor="end">72.0</text><text x="389.5" y="516.70" font-size="10.4" text-anchor="end">73.0</text><text x="389.5" y="499.70" font-size="10.4" text-anchor="end">74.0</text><text x="389.5" y="482.70" font-size="10.4" text-anchor="end">75.0</text><path d="M396.0,564.00H401.5M605.5,564.00H611.0M396.0,547.00H401.5M605.5,547.00H611.0M396.0,530.00H401.5M605.5,530.00H611.0M396.0,513.00H401.5M605.5,513.00H611.0M396.0,496.00H401.5M605.5,496.00H611.0" stroke="#000" stroke-width="1.05" fill="none"/><path d="M399.1,577.60H401.5M605.5,577.60H607.9M399.1,574.20H401.5M605.5,574.20H607.9M399.1,570.80H401.5M605.5,570.80H607.9M399.1,567.40H401.5M605.5,567.40H607.9M399.1,560.60H401.5M605.5,560.60H607.9M399.1,557.20H401.5M605.5,557.20H607.9M399.1,553.80H401.5M605.5,553.80H607.9M399.1,550.40H401.5M605.5,550.40H607.9M399.1,543.60H401.5M605.5,543.60H607.9M399.1,540.20H401.5M605.5,540.20H607.9M399.1,536.80H401.5M605.5,536.80H607.9M399.1,533.40H401.5M605.5,533.40H607.9M399.1,526.60H401.5M605.5,526.60H607.9M399.1,523.20H401.5M605.5,523.20H607.9M399.1,519.80H401.5M605.5,519.80H607.9M399.1,516.40H401.5M605.5,516.40H607.9M399.1,509.60H401.5M605.5,509.60H607.9M399.1,506.20H401.5M605.5,506.20H607.9M399.1,502.80H401.5M605.5,502.80H607.9M399.1,499.40H401.5M605.5,499.40H607.9M399.1,492.60H401.5M605.5,492.60H607.9M399.1,489.20H401.5M605.5,489.20H607.9M399.1,485.80H401.5M605.5,485.80H607.9M399.1,482.40H401.5M605.5,482.40H607.9" stroke="#000" stroke-width="0.8" fill="none"/><text x="503.50" y="471" font-size="10.67" text-anchor="middle">Total Vegetation C/N</text><text x="361.10" y="530.00" font-size="10.6" text-anchor="middle" transform="rotate(-90 361.10 530.00)">gC/gN</text></g>
<path d="M161,649.4H255" stroke="#0000ff" stroke-opacity="0.7" stroke-width="1.0" stroke-dasharray="10.6 10.2" fill="none"/>
<text x="269.0" y="651.9" font-size="10.0">Myccost_ISSP585Clm50BgcCrop_control (yrs 2015-2048)</text>
<path d="M161,680.4H261.6" stroke="#ff0000" stroke-opacity="0.6" stroke-width="1.0" fill="none"/>
<text x="269.0" y="683.7" font-size="10.0">Myccost_ISSP585Clm50BgcCrop_kparams (yrs 2015-2048)</text>
</svg></body></html>
